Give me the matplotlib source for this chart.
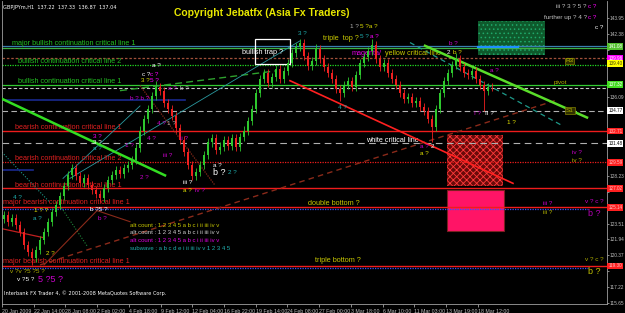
import numpy as np
import matplotlib
matplotlib.use("Agg")
import matplotlib.pyplot as plt
import matplotlib.transforms as mtransforms
from matplotlib.patches import Rectangle

# GBPJPYm H1 closing prices, one per bar
closes = [124.34, 123.65, 124.05, 123.35, 122.66, 121.37, 120.68, 120.09, 120.88, 121.87,
          122.66, 123.65, 124.64, 125.33, 126.22, 127.21, 128.30, 129.00, 128.20, 127.51,
          128.01, 127.31, 126.82, 126.42, 126.03, 127.02, 127.81, 128.30, 128.80, 128.40,
          129.00, 129.29, 129.79, 130.98, 132.76, 133.95, 134.94, 136.22, 137.12, 136.72,
          135.53, 134.94, 134.24, 132.96, 131.77, 130.58, 129.29, 128.20, 128.60, 129.29,
          130.28, 131.57, 131.97, 130.78, 131.17, 131.77, 131.27, 131.97, 131.17, 132.16,
          132.76, 133.75, 134.94, 136.52, 137.91, 138.50, 137.51, 138.11, 138.90, 137.91,
          138.70, 139.49, 140.48, 141.08, 141.47, 140.18, 139.19, 139.69, 140.88, 139.89,
          139.10, 138.50, 137.91, 136.92, 136.52, 137.31, 137.71, 137.12, 138.30, 139.49,
          140.09, 140.68, 141.27, 139.89, 139.10, 139.49, 138.50, 137.91, 137.31, 136.52,
          135.93, 136.13, 135.53, 135.73, 135.13, 134.74, 133.95, 133.15, 134.94, 136.52,
          137.71, 138.50, 139.29, 139.89, 139.10, 138.50, 138.30, 138.70, 137.91, 137.31,
          136.72, 137.12, 137.04]
first_open = 124.0
spike_highs = {38: 137.7, 74: 141.9, 78: 141.4, 92: 141.9, 113: 140.5}
spike_lows = {7: 119.4, 84: 135.7, 107: 131.6, 120: 134.7}

# horizontal critical lines (price)
major_bull_1 = 141.05
r2_level = 139.99
bull_2 = 139.30
bull_1 = 137.32
pivot_dash = 137.02
s1_level = 134.74
bear_1 = 132.71
white_critical = 131.47
bear_2 = 129.59
bear_1b = 127.02
major_bear_1 = 125.14
major_bear_1b = 119.30

# trend lines, (bar, price) end points
green_trend_left = [(-1, 136.0), (40.25, 128.3)]
green_trend_right = [(105.25, 141.18), (145.75, 134.05)]
red_trend = [(71.5, 137.71), (127.25, 127.51)]
teal_dash_right = [(101.5, 141.5), (139.5, 133.26)]
green_dash_left = [(29, 136.72), (68.25, 138.70)]
brown_dash_rising = [(9, 119.40), (137.75, 135.73)]
teal_thin = [(16.5, 128.01), (74, 141.67)]
teal_thin_2 = [(14.75, 128.0), (34, 135.2)]
brown_dot_falling = [(34, 137.22), (52.75, 127.32)]
teal_dot_left = [(-0.5, 130.6), (11.5, 125.6)]
green_dot_left = [(14, 125.3), (20.75, 121.3)]
brown_left_1 = [(-0.5, 123.0), (10, 122.1)]
brown_left_2 = [(10, 119.4), (23.25, 124.8)]
brown_left_3 = [(23.25, 124.8), (31.5, 123.7)]
navy_short_1 = [(-0.5, 135.83), (45.25, 135.83)]
navy_short_2 = [(-0.5, 128.80), (7.25, 128.80)]

# boxes: (bar0, price0, bar1, price1)
green_zone = (118.5, 140.29, 135.25, 143.65)
trap_box = (62.75, 139.40, 71.5, 141.87)
red_zone = (110.75, 127.22, 124.75, 132.27)
pink_zone = (110.75, 122.76, 125.0, 126.82)

# axis labels
date_labels = ["20 Jan 2009", "22 Jan 14:00", "28 Jan 08:00", "2 Feb 02:00", "4 Feb 18:00",
               "9 Feb 12:00", "12 Feb 04:00", "16 Feb 22:00", "19 Feb 14:00", "24 Feb 08:00",
               "27 Feb 00:00", "3 Mar 18:00", "6 Mar 10:00", "11 Mar 03:00", "13 Mar 19:00",
               "18 Mar 12:00"]
price_ticks = [143.95 - 1.5722 * k for k in range(19)]

# coloured price boxes on the scale: (price, face, text colour)
scale_boxes = [(141.08, "#55C030", "white"), (139.96, "#FF00FF", "white"),
               (139.40, "#FFFF00", "#404000"), (137.32, "#44DD22", "white"),
               (134.77, "white", "black"), (132.71, "#FF2020", "#FFC0C0"),
               (131.48, "white", "black"), (129.59, "#FF2020", "#FFC0C0"),
               (127.02, "#FF2020", "#FFC0C0"), (125.14, "#FF2020", "#FFC0C0"),
               (119.30, "#FF2020", "#FFC0C0")]

# wave count notes: (bar, price, text, colour)
notes = [
    (37, 139.2, "a ?", "white"),
    (34.5, 138.3, "c ?", "white"), (36.6, 138.3, "c ?", "#FF00FF"),
    (34.3, 137.7, "3 ?", "#E0E000"), (36.4, 137.7, "5 ?", "#FF00FF"),
    (31.6, 135.9, "b ? b ?", "#CC00CC"),
    (41, 136.9, "a ?", "#CC00CC"), (44, 136.9, "b ?", "#B0B0B0"),
    (22.2, 132.2, "3 ?", "#FF00FF"), (22.2, 131.6, "3 ?", "white"), (22.2, 131.0, "a ?", "#20B0B0"),
    (30.2, 131.3, "1 ?", "#CC00CC"),
    (38.2, 133.45, "4 ?", "#CC00CC"), (40.8, 133.45, "1 ?", "#B0B0B0"),
    (35.7, 132.0, "4 ?", "#CC00CC"), (44, 132.0, "ii ?", "#CC00CC"),
    (39.7, 130.3, "iii ?", "#CC00CC"), (34, 128.1, "2 ?", "#CC00CC"),
    (44.7, 127.6, "iii ?", "white"), (44.7, 126.8, "a ?", "#E0E000"), (47.7, 126.8, "iv ?", "#CC00CC"),
    (52.2, 129.3, "a ?", "white"), (56, 128.6, "2 ?", "#20B0B0"),
    (2.2, 126.1, "4 ?", "#20B0B0"),
    (73.5, 142.4, "3 ?", "#20B0B0"),
    (86.5, 143.05, "1 ?", "#B0B0B0"), (89, 143.05, "5 ?a ?", "#E0E000"),
    (89, 142.15, "5 ?", "#20B0B0"), (91.5, 142.15, "a ?", "#FF00FF"),
    (111.2, 141.45, "b ?", "#CC00CC"), (110.7, 140.5, "2", "white"), (112.2, 140.5, "b ?", "#E0E000"),
    (121.5, 138.7, "a ?", "#CC00CC"),
    (117.5, 134.45, "I ?", "#CC00CC"), (120.2, 134.45, "II ?", "white"),
    (125.7, 133.55, "1 ?", "#E0E000"),
    (83.5, 135.05, "4 ?", "#20B0B0"),
    (104, 131.2, "a ?", "#CC00CC"), (106.8, 131.2, "2", "white"), (104, 130.5, "a ?", "#E0E000"),
    (142, 130.6, "iv ?", "#CC00CC"), (142, 129.8, "iv ?", "#B0B000"),
    (134.7, 125.55, "iii ?", "#CC00CC"), (134.7, 124.65, "iii ?", "#B0B000"),
    (145.2, 125.75, "v ? c ?", "#CC00CC"), (145.2, 119.9, "v ? c ?", "#B0B000"),
    (10.5, 120.55, "2 ?", "#E0E000"), (7.5, 124.8, "1 ? ?", "#E0E000"), (7.3, 124.0, "a ?", "#20B0B0"),
    (21.5, 124.95, "b ?5 ?", "white"), (23.5, 124.05, "b ?", "#CC00CC"),
    (1.5, 118.7, "v ?v ?5 ?5 ?", "#B0B000"), (3.2, 118.0, "v ?5 ?", "white"),
    (147.7, 142.95, "c ?", "white"),
]
big_notes = [
    (52.2, 128.6, "b ?", "white"),
    (146.0, 124.55, "b ?", "#B000B0"), (146.0, 118.7, "b ?", "#C0C000"),
    (8.6, 118.0, "5 ?5 ?", "#CC00CC"),
]
# top right notes, the grey part ends where the magenta "c ?" starts
top_notes = [(145.05, "iii ? 3 ? 5 ?"), (143.95, "further up ? 4 ?")]

fig = plt.figure(figsize=(6.25, 3.13), dpi=100, facecolor="black")
ax = fig.add_axes([0.0032, 0.0288, 0.968, 0.968], facecolor="black")
ax.set_xlim(-0.5, 150.75)
ax.set_ylim(115.52, 145.63)

# horizontal lines
ax.axhline(major_bull_1 + 0.07, color="#3A7FB0", lw=0.9)
ax.axhline(major_bull_1 - 0.08, color="#3CB043", lw=0.9)
ax.axhline(r2_level, color="#A0503A", lw=0.9, ls=(0, (2, 1.5)))
ax.axhline(bull_2, color="#22DD22", lw=0.9, ls=(0, (1, 1)))
ax.axhline(bull_1, color="#33CC33", lw=0.9)
ax.axhline(pivot_dash, color="#C8C8C8", lw=0.8, ls=(0, (3, 2)))
ax.axhline(s1_level, color="#B0B0B0", lw=0.8, ls=(0, (5, 3)))
ax.axhline(bear_1, color="#EE1C1C", lw=1.0)
ax.axhline(white_critical, color="#B0B0B0", lw=0.8, ls=(0, (6, 4)))
ax.axhline(bear_2, color="#EE1C1C", lw=0.9, ls=(0, (1, 1)))
ax.axhline(bear_1b, color="#EE1C1C", lw=1.0)
for lvl in (major_bear_1, major_bear_1b):
    ax.axhline(lvl, color="#EE1C1C", lw=1.0)
    ax.plot([-0.5, 146], [lvl - 0.2, lvl - 0.2], color="#3050FF", lw=0.9, ls=(0, (1, 1)))

# critical line names
line_font = dict(fontsize=5.2, family="Liberation Sans", va="center", ha="left")
ax.text(2, 141.42, "major bullish continuation critical line 1", color="#22C022", **line_font)
ax.text(3.5, 139.6, "bullish continuation critical line 2", color="#22C022", **line_font)
ax.text(3.5, 137.62, "bullish continuation critical line 1", color="#22C022", **line_font)
ax.text(2.7, 133.06, "bearish continuation critical line 1", color="#E02020", **line_font)
ax.text(2.7, 129.98, "bearish continuation critical line 2", color="#E02020", **line_font)
ax.text(2.7, 127.32, "bearish continuation critical line 1", color="#E02020", **line_font)
ax.text(-0.2, 125.62, "major bearish continuation critical line 1", color="#E02020", **line_font)
ax.text(-0.2, 119.70, "major bearish continuation critical line 1", color="#E02020", **line_font)
ax.text(90.5, 131.78, "white critical line", color="white", **line_font)
ax.text(76, 125.55, "double bottom ?", color="#C8C800", **line_font)
ax.text(77.7, 119.8, "triple bottom ?", color="#C8C800", **line_font)
ax.text(79.7, 141.87, "triple  top ?", color="#C8C800", **line_font)
ax.text(87, 140.4, "magenta/", color="#E000E0", **line_font)
ax.text(95.3, 140.4, "yellow critical line", color="#C8C800", **line_font)
ax.text(59.5, 140.48, "bullish trap ?", color="white", **line_font)

# zones
def add_box(b, **kw):
    ax.add_patch(Rectangle((b[0], b[1]), b[2] - b[0], b[3] - b[1], **kw))

plt.rcParams["hatch.linewidth"] = 0.6
add_box(green_zone, facecolor="#0E5A2C", edgecolor="#1FA86A", hatch="....", lw=0, zorder=1)
ax.plot([green_zone[0], 128.5], [major_bull_1, major_bull_1], color="#1E90FF", lw=1.6, zorder=2)
add_box(trap_box, facecolor="none", edgecolor="white", lw=0.9, zorder=4)
add_box(red_zone, facecolor="#6A0A0A", edgecolor="#FF3A3A", hatch="xxxxx", lw=0, zorder=1)
add_box(pink_zone, facecolor="#FF1466", edgecolor="#7A2020", lw=0.8, zorder=1)

# trend lines
def seg(pts, **kw):
    ax.plot([p[0] for p in pts], [p[1] for p in pts], **kw)

seg(green_trend_left, color="#33DD22", lw=1.8, zorder=3)
seg(green_trend_right, color="#5ADD2A", lw=1.8, zorder=3)
seg(red_trend, color="#FF2020", lw=1.2, zorder=3)
seg(teal_dash_right, color="#1E9A8A", lw=0.9, ls=(0, (4, 3)), zorder=2)
seg(green_dash_left, color="#2EA02E", lw=1.0, ls=(0, (5, 3)), zorder=2)
seg(brown_dash_rising, color="#8A2A1A", lw=1.0, ls=(0, (4, 3)), zorder=2)
seg(teal_thin, color="#2A9AA0", lw=0.6, zorder=2)
seg(teal_thin_2, color="#2A9AA0", lw=0.6, zorder=2)
seg(brown_dot_falling, color="#8A2A1A", lw=0.9, ls=(0, (1, 1)), zorder=2)
seg(teal_dot_left, color="#1E9A8A", lw=0.8, ls=(0, (1, 1.5)), zorder=2)
seg(green_dot_left, color="#1E8A3A", lw=0.8, ls=(0, (1, 1.5)), zorder=2)
seg(brown_left_1, color="#C02020", lw=0.9, zorder=2)
seg(brown_left_2, color="#8A2A1A", lw=0.8, zorder=2)
seg(brown_left_3, color="#8A2A1A", lw=0.8, zorder=2)
seg(navy_short_1, color="#1A2A90", lw=1.2, zorder=2)
seg(navy_short_2, color="#1A2A90", lw=1.2, zorder=2)

# candles
up_col, down_col = "#2EC82E", "#F02020"
opens = [first_open] + closes[:-1]
for i, (o, c) in enumerate(zip(opens, closes)):
    col = up_col if c >= o else down_col
    hi = spike_highs.get(i, max(o, c) + 0.4)
    lo = spike_lows.get(i, min(o, c) - 0.4)
    ax.vlines(i, lo, hi, color=col, lw=0.6, zorder=5)
    ax.add_patch(Rectangle((i - 0.28, min(o, c)), 0.56, max(abs(c - o), 0.06),
                           facecolor=col, edgecolor="none", zorder=5))

# wave count notes
for x, y, s, col in notes:
    ax.text(x, y, s, color=col, fontsize=4.6, family="Liberation Sans",
            va="center", ha="left", zorder=6)
for x, y, s, col in big_notes:
    ax.text(x, y, s, color=col, fontsize=6.5, family="Liberation Sans",
            va="center", ha="left", zorder=6)
for y, s in top_notes:
    ax.text(145.7, y, s, color="#C0C0C0", fontsize=4.6, family="Liberation Sans",
            va="center", ha="right", zorder=6)
    ax.text(146.0, y, "c ?", color="#FF00FF", fontsize=4.6, family="Liberation Sans",
            va="center", ha="left", zorder=6)

# count legend
leg_font = dict(fontsize=4.3, family="Liberation Sans", va="center", ha="left")
ax.text(31.5, 123.36, "alt count : 1 2 3 4 5 a b c i ii iii iv v", color="#C8C800", **leg_font)
ax.text(31.5, 122.58, "alt count : 1 2 3 4 5 a b c i ii iii iv v", color="#D0D0D0", **leg_font)
ax.text(31.5, 121.85, "alt count : 1 2 3 4 5 a b c i ii iii iv v", color="#E000E0", **leg_font)
ax.text(31.5, 121.08, "subwave : a b c d e i ii iii iv v 1 2 3 4 5", color="#20B0B0", **leg_font)

# pivot tags
tag_font = dict(fontsize=4.6, family="Liberation Sans", va="center", ha="left", color="#B0B000")
ax.text(140.3, 139.7, "R3", bbox=dict(boxstyle="square,pad=0.1", fc="#303000", ec="#808000", lw=0.5), **tag_font)
ax.text(137.3, 137.5, "pivot", **tag_font)
ax.text(140.5, 134.74, "S1", bbox=dict(boxstyle="square,pad=0.1", fc="#303000", ec="#808000", lw=0.5), **tag_font)

# header texts
fig.text(0.005, 0.985, "GBPJPYm,H1  137.22  137.33  136.87  137.04", color="white",
         fontsize=3.6, va="top", ha="left")
ax.text(0.285, 0.96, "Copyright Jebatfx (Asia Fx Traders)", transform=ax.transAxes,
        color="#E8E800", fontsize=7.5, family="Liberation Sans", weight="bold", va="center")
ax.text(0.003, 0.035, "Interbank FX Trader 4, \u00a9 2001-2008 MetaQuotes Software Corp.",
        transform=ax.transAxes, color="white", fontsize=3.6, va="center", ha="left")

# axes
ax.set_xticks(np.arange(len(date_labels)) * 7.93 - 0.5)
ax.set_xticklabels(date_labels, family="Liberation Sans")
for lbl in ax.get_xticklabels():
    lbl.set_horizontalalignment("left")
ax.yaxis.tick_right()
ax.set_yticks(price_ticks)
# the coloured boxes cover the scale labels they sit on
box_prices = [b[0] for b in scale_boxes]
ax.set_yticklabels(["" if min(abs(p - q) for q in box_prices) < 0.75 else f"{p:.2f}"
                    for p in price_ticks], family="Liberation Sans")
ax.tick_params(axis="x", colors="#C0C0C0", length=2.5, width=0.5, labelsize=3.8, pad=0.8)
ax.tick_params(axis="y", colors="#C0C0C0", length=1.2, width=0.5, labelsize=3.4, pad=0.5)
for side in ("left", "right", "bottom"):
    ax.spines[side].set_color("#A0A0A0")
    ax.spines[side].set_linewidth(0.6)
ax.spines["top"].set_visible(False)

trans = mtransforms.blended_transform_factory(ax.transAxes, ax.transData)
for p, fc, tc in scale_boxes:
    ax.text(1.002, p, f"{p:.2f}", transform=trans, fontsize=3.3, color=tc, va="center",
            ha="left", family="Liberation Sans",
            bbox=dict(boxstyle="square,pad=0.2", fc=fc, ec="none"), zorder=10)

fig.savefig("out.png", dpi=100, facecolor="black")
